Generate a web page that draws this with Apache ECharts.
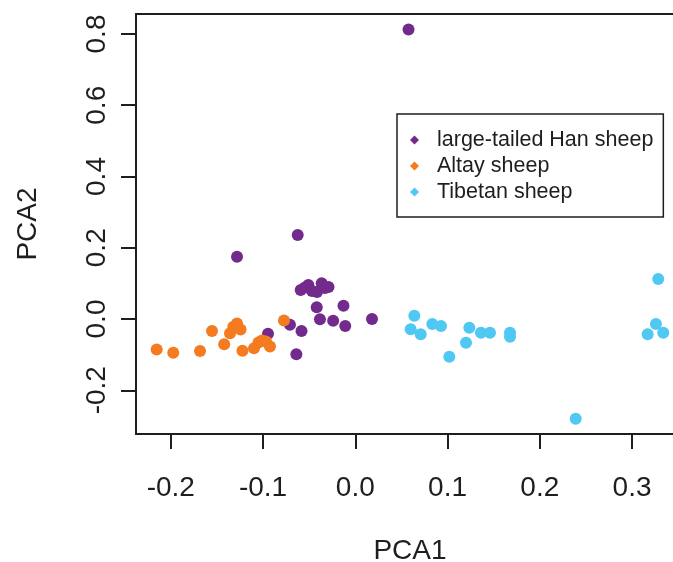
<!DOCTYPE html>
<html>
<head>
<meta charset="utf-8">
<script src="https://cdn.jsdelivr.net/npm/echarts/dist/echarts.min.js"></script>
<style>
html,body{margin:0;padding:0;background:#fff;}
#chart{width:673px;height:562px;}
</style>
</head>
<body>
<div id="chart"></div>
<script>
// Series names
const seriesNames = ['large-tailed Han sheep', 'Altay sheep', 'Tibetan sheep'];
const seriesColors = ['#722B8D', '#F47B20', '#4FC8F3'];

// large-tailed Han sheep [PCA1, PCA2]
const hanSheep = [
  [0.0577, 0.8126],
  [-0.0624, 0.2358],
  [-0.1282, 0.1749],
  [-0.0592, 0.0814],
  [-0.0545, 0.0884],
  [-0.0509, 0.0954],
  [-0.0469, 0.0786],
  [-0.0415, 0.0758],
  [-0.0364, 0.1002],
  [-0.0328, 0.0870],
  [-0.0290, 0.0898],
  [-0.0418, 0.0328],
  [-0.0128, 0.0373],
  [-0.0383, -0.0008],
  [-0.0240, -0.0048],
  [-0.0109, -0.0196],
  [0.0181, 0.0000],
  [-0.0708, -0.0160],
  [-0.0583, -0.0337],
  [-0.0946, -0.0413],
  [-0.0639, -0.0991]
];

// Altay sheep [PCA1, PCA2]
const altaySheep = [
  [-0.2153, -0.0856],
  [-0.1973, -0.0946],
  [-0.1683, -0.0898],
  [-0.1553, -0.0337],
  [-0.1421, -0.0707],
  [-0.1358, -0.0401],
  [-0.1322, -0.0216],
  [-0.1282, -0.0126],
  [-0.1244, -0.0295],
  [-0.1223, -0.0893],
  [-0.1098, -0.0822],
  [-0.1049, -0.0660],
  [-0.1011, -0.0604],
  [-0.0968, -0.0632],
  [-0.0925, -0.0772],
  [-0.0773, -0.0042]
];

// Tibetan sheep [PCA1, PCA2]
const tibetanSheep = [
  [0.0640, 0.0093],
  [0.0600, -0.0289],
  [0.0709, -0.0429],
  [0.0835, -0.0140],
  [0.0929, -0.0196],
  [0.1236, -0.0244],
  [0.1200, -0.0665],
  [0.1019, -0.1058],
  [0.1362, -0.0385],
  [0.1460, -0.0385],
  [0.1677, -0.0385],
  [0.1677, -0.0497],
  [0.2389, -0.2799],
  [0.3284, 0.1123],
  [0.3259, -0.0140],
  [0.3169, -0.0429],
  [0.3338, -0.0385]
];

// Tick labels
const xTicks = [-0.2, -0.1, 0.0, 0.1, 0.2, 0.3];
const yTicks = [-0.2, 0.0, 0.2, 0.4, 0.6, 0.8];

const FONT = '"Liberation Sans", Arial, sans-serif';
const INK = '#1e1e1e';

const chart = echarts.init(document.getElementById('chart'), null, {renderer: 'canvas'});
const allData = [hanSheep, altaySheep, tibetanSheep];

chart.setOption({
  animation: false,
  backgroundColor: '#ffffff',
  grid: {
    left: 136, top: 14, width: 548, height: 420,
    outerBoundsMode: 'none', containLabel: false,
    show: true, borderColor: INK, borderWidth: 2, backgroundColor: 'transparent'
  },
  legend: {
    orient: 'vertical',
    left: 397, top: 114,
    backgroundColor: '#ffffff',
    borderColor: INK, borderWidth: 1.5, borderRadius: 0,
    padding: [13, 10, 12, 13],
    itemGap: 0,
    itemWidth: 9, itemHeight: 9,
    icon: 'diamond',
    data: seriesNames,
    textStyle: {fontFamily: FONT, fontSize: 21.5, color: INK, lineHeight: 26, padding: [0, 0, 0, 13]}
  },
  xAxis: {
    type: 'value',
    min: -0.2377, max: 0.3563,
    name: 'PCA1', nameLocation: 'middle', nameGap: 103,
    nameTextStyle: {fontFamily: FONT, fontSize: 28, color: INK},
    splitLine: {show: false},
    axisLine: {show: false, onZero: false},
    axisTick: {show: true, length: 15, inside: false, customValues: xTicks, lineStyle: {color: INK, width: 2}},
    axisLabel: {show: true, customValues: xTicks, margin: 40, fontFamily: FONT, fontSize: 28, color: INK,
      formatter: v => Number(v).toFixed(1)}
  },
  yAxis: {
    type: 'value',
    min: -0.3228, max: 0.8561,
    name: 'PCA2', nameLocation: 'middle', nameGap: 94, nameRotate: 90,
    nameTextStyle: {fontFamily: FONT, fontSize: 28, color: INK},
    splitLine: {show: false},
    axisLine: {show: false, onZero: false},
    axisTick: {show: true, length: 15, inside: false, customValues: yTicks, lineStyle: {color: INK, width: 2}},
    axisLabel: {show: true, customValues: yTicks, rotate: 90, margin: 25, fontFamily: FONT, fontSize: 28, color: INK,
      formatter: v => Number(v).toFixed(1)}
  },
  series: seriesNames.map((name, i) => ({
    name: name,
    type: 'scatter',
    symbol: 'circle',
    symbolSize: 12,
    itemStyle: {color: seriesColors[i], opacity: 1},
    data: allData[i]
  }))
});
</script>
</body>
</html>
